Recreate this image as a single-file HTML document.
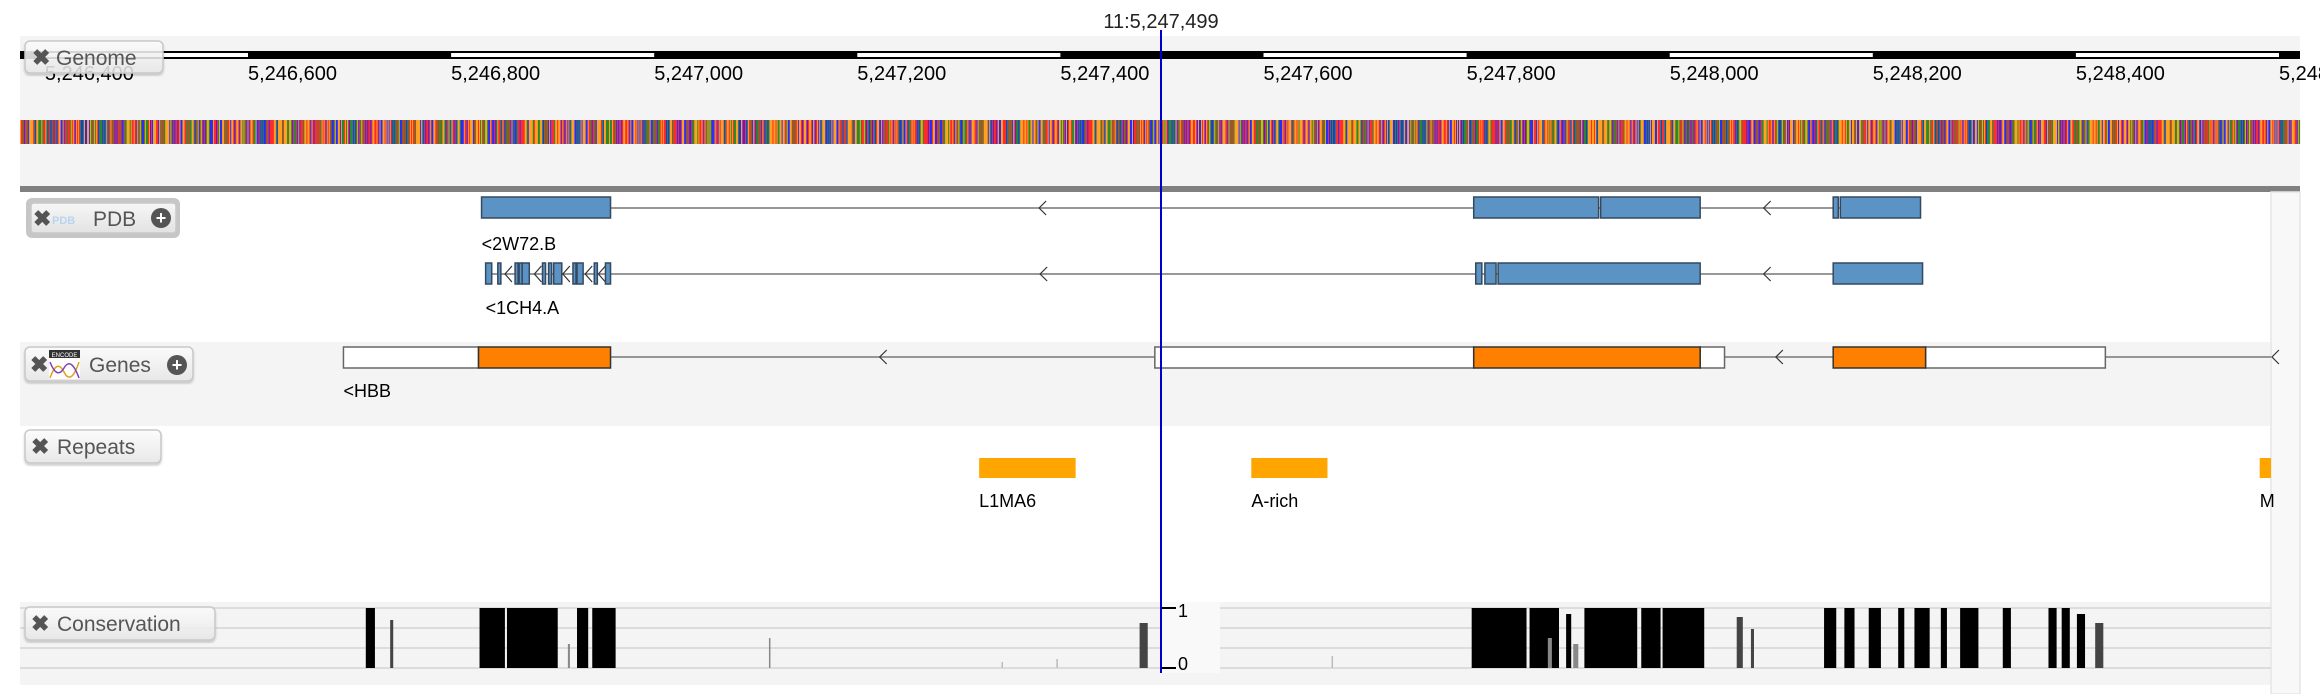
<!DOCTYPE html>
<html><head><meta charset="utf-8">
<style>
html,body{margin:0;padding:0;background:#fff;width:2320px;height:694px;overflow:hidden}
svg{display:block}
text{font-family:"Liberation Sans",sans-serif}
.btn{fill:url(#bg);stroke:#c8c8c8;stroke-width:1.5}
.bt{font-size:21px;fill:#555}
.x{font-size:22px;fill:#555;font-weight:bold}
</style></head><body>
<svg id="c" width="2320" height="694" xmlns="http://www.w3.org/2000/svg">
<defs>
<linearGradient id="bg" x1="0" y1="0" x2="0" y2="1"><stop offset="0" stop-color="#ffffff" stop-opacity="0.85"/><stop offset="1" stop-color="#e8e8e8" stop-opacity="0.85"/></linearGradient>
<filter id="sh"><feDropShadow dx="0" dy="2" stdDeviation="1" flood-color="#000" flood-opacity="0.2"/></filter>
</defs>
<rect x="20" y="36" width="2280" height="150" fill="#f4f4f4"/>
<rect x="20" y="186" width="2280" height="6" fill="#808080"/>
<rect x="20" y="192" width="2251" height="150" fill="#fff"/>
<rect x="20" y="342" width="2251" height="84" fill="#f4f4f4"/>
<rect x="20" y="426" width="2251" height="176" fill="#fff"/>
<rect x="20" y="602" width="2251" height="83" fill="#f4f4f4"/>
<rect x="2271" y="192" width="29" height="502" fill="#f8f8f8" stroke="#e6e6e6" stroke-width="1.5"/>
<g id="grid"></g>
<rect x="1161" y="602" width="59" height="71" fill="#f9f9f9"/>
<g id="ruler"></g>
<g id="seq"></g>
<g id="feat"></g>
<g id="cons"></g>
<line x1="1161" y1="608" x2="1176" y2="608" stroke="#000" stroke-width="2"/>
<line x1="1161" y1="668" x2="1176" y2="668" stroke="#000" stroke-width="2"/>
<text x="1178" y="617" font-size="18">1</text>
<text x="1178" y="670" font-size="18">0</text>
<text x="1161" y="28" font-size="20" text-anchor="middle" fill="#222">11:5,247,499</text>
<line x1="1161" y1="30" x2="1161" y2="673" stroke="#0000cc" stroke-width="2"/>
<g>
<rect x="25" y="41" width="138" height="32" rx="5" class="btn" filter="url(#sh)"/>
<text x="32" y="65" class="x">✖</text><text x="56" y="65" class="bt">Genome</text></g>
<g>
<rect x="26" y="198" width="154" height="40" rx="6" fill="#c6c6c6"/>
<rect x="31" y="203" width="145" height="30" rx="3" class="btn" stroke="none"/>
<text x="33" y="226" class="x">✖</text><text x="52" y="224" font-size="11" font-weight="bold" fill="#b8d4f0">PDB</text>
<text x="93" y="226" class="bt">PDB</text><circle cx="161" cy="218" r="10" fill="#555"/><text x="161" y="224" font-size="18" font-weight="bold" fill="#fff" text-anchor="middle">+</text></g>
<g>
<rect x="25" y="347" width="168" height="34" rx="5" class="btn" filter="url(#sh)"/>
<text x="30" y="372" class="x">✖</text>
<rect x="49" y="350" width="31" height="29" fill="#fff"/><rect x="49" y="350" width="31" height="8" fill="#333"/><text x="64.5" y="357" font-size="6" fill="#fff" text-anchor="middle">ENCODE</text>
<path d="M50 378 Q57 358 64 372 T79 362" stroke="#e0a020" fill="none" stroke-width="1.5"/><path d="M50 362 Q57 380 64 368 T79 378" stroke="#8040c0" fill="none" stroke-width="1.5"/>
<text x="89" y="372" class="bt">Genes</text><circle cx="177" cy="365" r="10" fill="#555"/><text x="177" y="371" font-size="18" font-weight="bold" fill="#fff" text-anchor="middle">+</text></g>
<g>
<rect x="25" y="430" width="136" height="33" rx="5" class="btn" filter="url(#sh)"/>
<text x="31" y="454" class="x">✖</text><text x="57" y="454" class="bt">Repeats</text></g>
<g>
<rect x="25" y="607" width="190" height="33" rx="5" class="btn" filter="url(#sh)"/>
<text x="31" y="631" class="x">✖</text><text x="57" y="631" class="bt">Conservation</text></g>
</svg>
<script>
const tickBp = [400,600,800,1000,1200,1400,1600,1800,2000,2200,2400,2600];
const tickLabels = ["5,246,400","5,246,600","5,246,800","5,247,000","5,247,200","5,247,400","5,247,600","5,247,800","5,248,000","5,248,200","5,248,400","5,248,600"];
const pdbAStart = [830,1807,1932,2161,2168];
const pdbAEnd   = [957,1930,2030,2166,2247];
const pdbBStart = [834,846,863,867,870,890,896,901,920,924,941,952,1809,1818,1831,2161];
const pdbBEnd   = [840,849,866,870,877,893,899,909,923,930,944,957,1815,1829,2030,2249];
const pdbBArrows = [856,885,913,935,948];
const geneUtrStart = [694,1493,2030,2252];
const geneUtrEnd   = [827,1807,2054,2429];
const geneCdsStart = [827,1807,2161];
const geneCdsEnd   = [957,2030,2252];
const repStart = [1320,1588,2581];
const repEnd   = [1415,1663,2700];
const repNames = ["L1MA6","A-rich","M"];
const consStart = [716,740,828,855,915,924,939,1113,1342,1396,1478,1667,1805,1862,1880,1898,1905,1916,1972,1993,2066,2080,2152,2172,2196,2225,2241,2267,2286,2328,2373,2386,2401,2419];
const consEnd   = [725,743,853,905,917,935,962,1114,1343,1397,1486,1668,1859,1891,1884,1903,1910,1968,1991,2034,2072,2083,2164,2182,2208,2231,2256,2273,2304,2336,2381,2394,2409,2427];
const consVal   = [1.0,0.8,1.0,1.0,0.4,1.0,1.0,0.5,0.1,0.15,0.75,0.2,1.0,1.0,0.5,0.9,0.4,1.0,1.0,1.0,0.85,0.65,1.0,1.0,1.0,1.0,1.0,1.0,1.0,1.0,1.0,1.0,0.9,0.75];
const seqStr = "GTGCACCTGACTCCTGAGGAGAAGTCTGCCGTTACTGCCCTGTGGGGCAAGGTGAACGTGGATGAAGTTGGTGGTGAGGCCCTGGGCAGGTTGGTATCAAGGTTACAAGACAGGTTTAAGGAGACCAATAGAAACTGGGCATGTGGAGACAGAGAAGACTCTTGGGTTTCTGATAGGCACTGACTCTCTCTGCCTATTGGTCTATTTTCCCACCCTTAGGCTGCTGGTGGTCTACCCTTGGACCCAGAGGTTCTTTGAGTCCTTTGGGGATCTGTCCACTCCTGATGCTGTTATGGGCAACCCTAAGGTGAAGGCTCATGGCAAGAAAGTGCTCGGTGCCTTTAGTGATGGCCTGGCTCACCTGGACAACCTCAAGGGCACCTTTGCCACACTGAGTGAGCTGCACTGTGACAAGCTGCACGTGGATCCTGAGAACTTCAGG";
const x = bp => 248 + (bp - 600) * 1.0155;
const consY = v => 668 - v * 60;
const NS = "http://www.w3.org/2000/svg";
function mk(tag, attrs, parent){const e=document.createElementNS(NS,tag);for(const k in attrs)e.setAttribute(k,attrs[k]);parent.appendChild(e);return e;}
const ruler=document.getElementById('ruler'),seq=document.getElementById('seq'),feat=document.getElementById('feat'),cons=document.getElementById('cons'),grid=document.getElementById('grid');
[608,628,648,668].forEach(gy=>{const l=mk('rect',{x:20,y:gy-1,width:2251,height:2,fill:'#dcdcdc'},grid);

});
let bar=mk('rect',{x:20,y:51,width:2280,height:8,fill:'#000'},ruler);


tickBp.forEach((b,i)=>{
  if(i%2===0){const w=mk('rect',{x:x(b),y:53,width:Math.min(x(b+200),2296)-x(b),height:4,fill:'#fff'},ruler);
  
  }
  const t=mk('text',{x:x(b),y:80,'font-size':20,fill:'#000'},ruler);t.textContent=tickLabels[i];
  
  
});
const colors={A:'#2a8a2a',C:'#2a2aff',G:'#ffa020',T:'#ff2a2a'};
for(let i=0;i<2245;i++){
  const ch=seqStr[(i*7+Math.floor(i/97)*13)%seqStr.length];
  const r=mk('rect',{x:20+i*1.0155,y:120,width:1.3,height:24,fill:colors[ch]},seq);
  
  
}
function line(y,b1,b2){const l=mk('line',{x1:x(b1),y1:y,x2:Math.min(x(b2),2271),y2:y,stroke:'#777','stroke-width':1.5},feat);

}
function arrow(y,b,h){const p=mk('path',{d:`M${x(b)+4} ${y-h} L${x(b)-3} ${y} L${x(b)+4} ${y+h}`,stroke:'#333',fill:'none','stroke-width':1.2},feat);

}
function box(y,h,b1,b2,fill,stroke){const r=mk('rect',{x:x(b1),y:y,width:x(b2)-x(b1),height:h,fill:fill,stroke:stroke,'stroke-width':1.5},feat);

}
function label(tx,b,y){const t=mk('text',{x:x(b),y:y,'font-size':18,fill:'#000'},feat);t.textContent=tx;

}
line(208,pdbAStart[0],pdbAEnd[pdbAEnd.length-1]);
arrow(208,(957+1807)/2,7);arrow(208,(2030+2161)/2,7);
pdbAStart.forEach((s,i)=>box(197,21,s,pdbAEnd[i],'#5b93c4','#34495e'));
label('<2W72.B',830,250);
line(274,pdbBStart[0],pdbBEnd[pdbBEnd.length-1]);
arrow(274,(957+1809)/2,7);arrow(274,(2030+2161)/2,7);
pdbBArrows.forEach(b=>arrow(274,b,8));
pdbBStart.forEach((s,i)=>box(263,21,s,pdbBEnd[i],'#5b93c4','#34495e'));
label('<1CH4.A',834,314);
line(357,694,2700);
arrow(357,(957+1493)/2,7);arrow(357,(2054+2161)/2,7);arrow(357,2596,7);
geneUtrStart.forEach((s,i)=>box(347,21,s,geneUtrEnd[i],'#fff','#666'));
geneCdsStart.forEach((s,i)=>box(347,21,s,geneCdsEnd[i],'#ff8000','#333'));
label('<HBB',694,397);
repStart.forEach((s,i)=>{
  const e=Math.min(x(repEnd[i]),2271);
  const r=mk('rect',{x:x(s),y:458,width:e-x(s),height:20,fill:'#ffa500'},feat);
  
  
  label(repNames[i],s,507);
});
consStart.forEach((s,i)=>{
  const v=consVal[i];
  const col=v>=0.9?'#000':(v>=0.6?'#444':(v>=0.3?'#888':'#bbb'));
  const r=mk('rect',{x:x(s),y:consY(v),width:Math.max(x(consEnd[i])-x(s),1.5),height:668-consY(v),fill:col},cons);
  
  
});
</script>
</body></html>
